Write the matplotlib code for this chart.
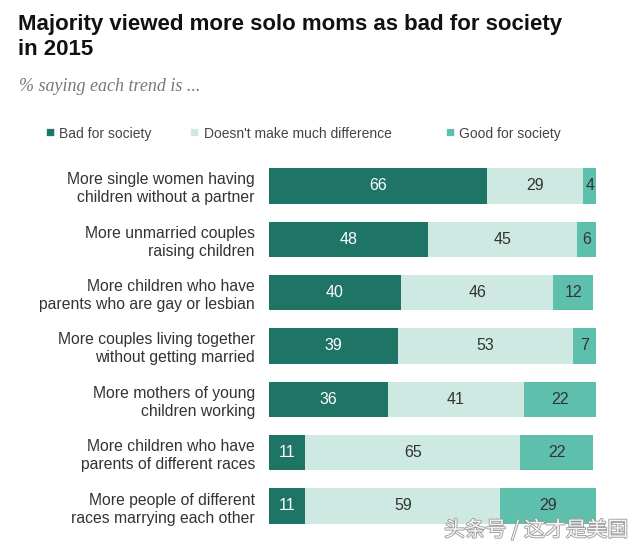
import numpy as np
import matplotlib
matplotlib.use("Agg")
import matplotlib.pyplot as plt
import matplotlib.patheffects as pe

plt.rcParams['font.family'] = ['Liberation Sans', 'DejaVu Sans']

# Data (rows top to bottom)
trends = [
    "More single women having\nchildren without a partner",
    "More unmarried couples\nraising children",
    "More children who have\nparents who are gay or lesbian",
    "More couples living together\nwithout getting married",
    "More mothers of young\nchildren working",
    "More children who have\nparents of different races",
    "More people of different\nraces marrying each other",
]
bad = [66, 48, 40, 39, 36, 11, 11]
no_diff = [29, 45, 46, 53, 41, 65, 59]
good = [4, 6, 12, 7, 22, 22, 29]

series_names = ["Bad for society", "Doesn't make much difference", "Good for society"]
colors = ["#1e7565", "#cde9e2", "#5ec0ac"]
text_colors = ["white", "#333333", "#333333"]

fig = plt.figure(figsize=(6.4, 5.5), dpi=100)
ax = fig.add_axes([0.420, 0.0315, 0.517, 0.679])

y = np.arange(len(trends))
left = np.zeros(len(trends))
for vals, col, tcol in zip([bad, no_diff, good], colors, text_colors):
    vals = np.array(vals)
    bars = ax.barh(y, vals, left=left, height=0.66, color=col, edgecolor="none")
    for b, v in zip(bars, vals):
        ax.text(b.get_x() + b.get_width() / 2, b.get_y() + b.get_height() / 2,
                str(v), ha="center", va="center", color=tcol, fontsize=11.5)
    left = left + vals

ax.set_xlim(0, 100)
ax.set_ylim(len(trends) - 0.5, -0.5)
ax.set_yticks(y)
ax.set_yticklabels(trends, fontsize=11.3, color="#333333", linespacing=1.25)
ax.tick_params(axis="y", length=0, pad=10)
ax.tick_params(axis="x", bottom=False, labelbottom=False)
for s in ax.spines.values():
    s.set_visible(False)
for lbl in ax.get_yticklabels():
    lbl.set_horizontalalignment("right")

# Title and subtitle
fig.text(0.028, 0.975, "Majority viewed more solo moms as bad for society\nin 2015",
         fontsize=16, fontweight="bold", color="#111111", va="top",
         linespacing=1.25)
fig.text(0.030, 0.842, "% saying each trend is ...", fontsize=13, style="italic",
         color="#777777", family="Liberation Serif", va="center")

# Legend
leg_x = [0.070, 0.296, 0.695]
for lx, name, col in zip(leg_x, series_names, colors):
    fig.text(lx, 0.758, "\u25A0", color=col, fontsize=11, va="center")
    fig.text(lx + 0.022, 0.757, name, color="#444444", fontsize=10, va="center")

# Watermark
fig.text(0.982, 0.036, "头条号 / 这才是美国", ha="right", va="center", fontsize=15,
         color="#f6f6f6", family=["Noto Sans CJK SC", "DejaVu Sans"],
         path_effects=[pe.withStroke(linewidth=1.2, foreground="#9a9a9a")])

fig.savefig("out.png", dpi=100)
